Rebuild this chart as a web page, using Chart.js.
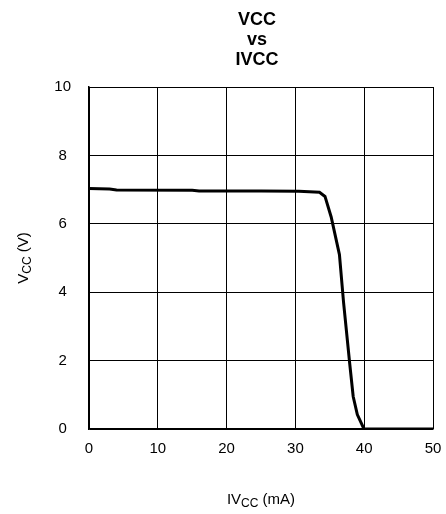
<!DOCTYPE html>
<html>
<head>
<meta charset="utf-8">
<script src="https://cdn.jsdelivr.net/npm/chart.js@4"></script>
<style>
  html, body { margin: 0; padding: 0; background: #fff; }
  #wrap { width: 446px; height: 514px; }
</style>
</head>
<body>
<div id="wrap"><canvas id="c" width="446" height="514"></canvas></div>
<script>
// data
const ivccMilliamps = [0, 3, 4, 15, 16, 25, 30.5, 33.5, 34.3, 35.2, 36.4, 37.0, 37.9, 38.4, 39.0, 39.9, 40, 50];
const vccVolts      = [7.03, 7.02, 6.99, 6.98, 6.96, 6.96, 6.95, 6.92, 6.8, 6.2, 5.1, 3.7, 1.9, 0.95, 0.42, 0.03, 0, 0];
const titleLines = ['VCC', 'vs', 'IVCC'];

const FONT = "'Liberation Sans', Arial, sans-serif";

// draws text made of pieces, some of them as subscripts
function drawPieces(ctx, pieces, cx, baseline) {
    let total = 0;
    pieces.forEach(p => {
        ctx.font = p.size + 'px ' + FONT;
        p.w = ctx.measureText(p.t).width;
        total += p.w;
    });
    let x = cx - total / 2;
    ctx.textAlign = 'left';
    ctx.textBaseline = 'alphabetic';
    pieces.forEach(p => {
        ctx.font = p.size + 'px ' + FONT;
        ctx.fillText(p.t, x, baseline + (p.dy || 0));
        x += p.w;
    });
}

const labelsPlugin = {
    id: 'labels',
    afterDraw(chart) {
        const ctx = chart.ctx;
        const area = chart.chartArea;
        ctx.save();
        ctx.fillStyle = '#000';

        // title
        ctx.font = 'bold 18px ' + FONT;
        ctx.textAlign = 'center';
        ctx.textBaseline = 'alphabetic';
        titleLines.forEach((line, i) => ctx.fillText(line, 257, 25 + i * 20));

        // x axis title
        drawPieces(ctx, [
            { t: 'IV', size: 15 },
            { t: 'CC', size: 12, dy: 3 },
            { t: ' (mA)', size: 15 }
        ], (area.left + area.right) / 2, 504);

        // y axis title
        ctx.translate(28, (area.top + area.bottom) / 2);
        ctx.rotate(-Math.PI / 2);
        drawPieces(ctx, [
            { t: 'V', size: 15 },
            { t: 'CC', size: 12, dy: 3 },
            { t: ' (V)', size: 15 }
        ], 0, 0);
        ctx.restore();
    }
};

const points = ivccMilliamps.map((x, i) => ({ x: x, y: vccVolts[i] }));

new Chart(document.getElementById('c'), {
    type: 'scatter',
    data: {
        datasets: [{
            data: points,
            showLine: true,
            borderColor: '#000',
            borderWidth: 3,
            pointRadius: 0,
            tension: 0
        }]
    },
    options: {
        responsive: false,
        animation: false,
        layout: { padding: { top: 87, right: 13, left: 0, bottom: 0 } },
        plugins: {
            legend: { display: false },
            title: { display: false },
            tooltip: { enabled: false }
        },
        scales: {
            x: {
                type: 'linear',
                min: 0,
                max: 50,
                afterFit: scale => {
                    scale.height = 85;
                    scale.paddingLeft = 0;
                    scale.paddingRight = 0;
                },
                ticks: {
                    stepSize: 10,
                    color: '#000',
                    font: { family: FONT, size: 15 },
                    padding: 11,
                    maxRotation: 0
                },
                grid: { color: '#000', lineWidth: 1, drawTicks: false },
                border: { color: '#000', width: 1.5 }
            },
            y: {
                min: 0,
                max: 10,
                afterFit: scale => {
                    scale.width = 89;
                    scale.paddingTop = 0;
                    scale.paddingBottom = 0;
                },
                ticks: {
                    stepSize: 2,
                    color: '#000',
                    font: { family: FONT, size: 15 },
                    padding: 18,
                    crossAlign: 'center'
                },
                grid: { color: '#000', lineWidth: 1, drawTicks: false },
                border: { color: '#000', width: 1.5 }
            }
        }
    },
    plugins: [labelsPlugin]
});
</script>
</body>
</html>
